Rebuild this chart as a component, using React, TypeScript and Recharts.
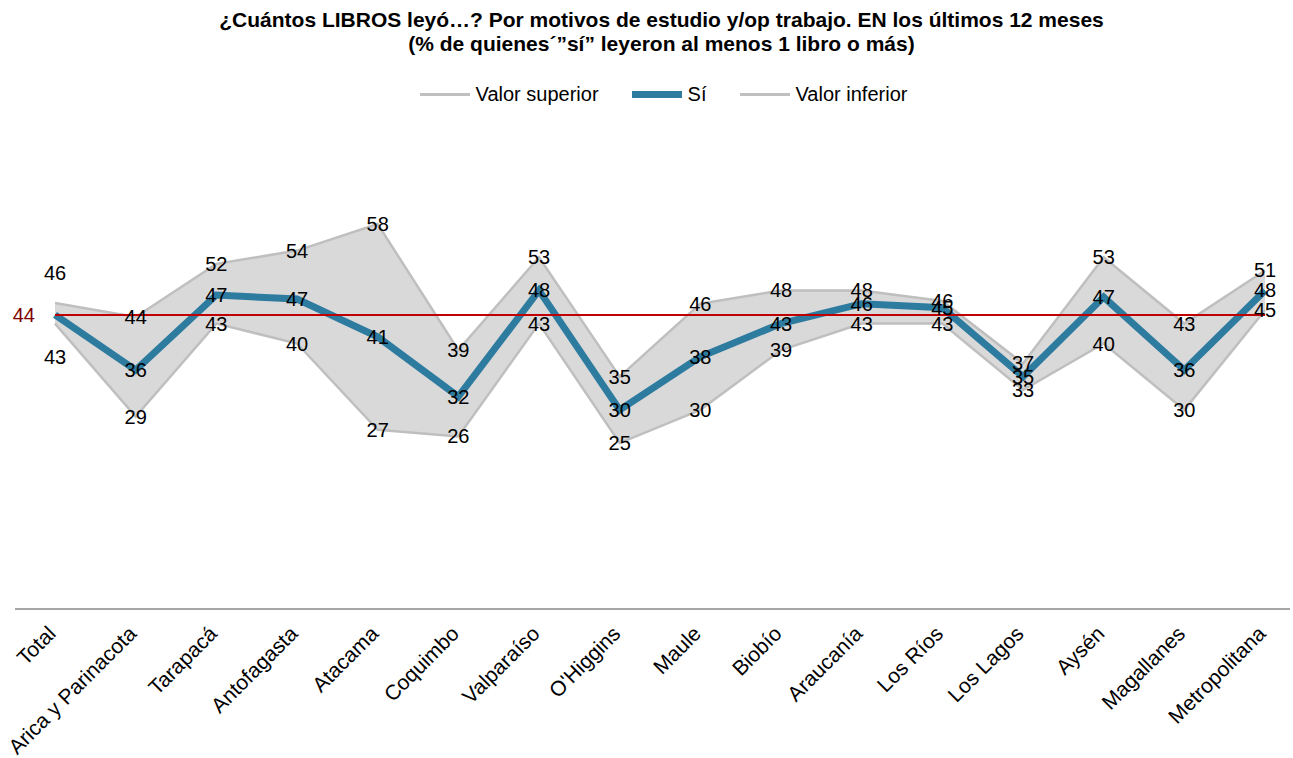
import { ComposedChart, Area, Line, XAxis, YAxis, ReferenceLine, LabelList } from "recharts";

const regiones = [
  "Total",
  "Arica y Parinacota",
  "Tarapacá",
  "Antofagasta",
  "Atacama",
  "Coquimbo",
  "Valparaíso",
  "O'Higgins",
  "Maule",
  "Biobío",
  "Araucanía",
  "Los Ríos",
  "Los Lagos",
  "Aysén",
  "Magallanes",
  "Metropolitana",
];
const valorSuperior = [46.1, 44, 52, 54, 58, 39, 53, 35, 46, 48, 48, 46.4, 37, 53, 43, 51];
const si = [44.3, 36, 47.3, 46.7, 41, 32, 48, 30, 38, 43, 46, 45.4, 35, 47, 36, 48];
const valorInferior = [43, 29, 43, 40, 27, 26, 43, 25, 30, 39, 43, 43, 33, 40, 30, 45];
const promedio = 44.3;

const data = regiones.map((region, i) => ({
  region,
  sup: valorSuperior[i],
  si: si[i],
  inf: valorInferior[i],
  banda: [valorInferior[i], valorSuperior[i]],
}));

const FONT = "'Liberation Sans', Arial, sans-serif";
const GRIS = "#bfbfbf";
const AZUL = "#2e7ba0";

// Excel moved the Total labels away from the line; null hides the label
const makeLabel =
  (shiftFirst: number | null) =>
  (props: any) => {
    const { x, y, value, index } = props;
    if (index === 0 && shiftFirst === null) return null;
    const dy = index === 0 ? shiftFirst || 0 : 0;
    return (
      <text
        x={x}
        y={y + dy}
        dy={7}
        textAnchor="middle"
        fontSize={20}
        fontFamily={FONT}
        fill="#000"
      >
        {Math.round(value)}
      </text>
    );
  };

const Tick = (props: any) => {
  const { x, y, payload } = props;
  return (
    <g transform={`translate(${x + 2},${y + 18})`}>
      <text
        transform="rotate(-45)"
        textAnchor="end"
        fontSize={21}
        fontFamily={FONT}
        fill="#000"
      >
        {payload.value}
      </text>
    </g>
  );
};

const LegendItem = ({ color, width, label }: { color: string; width: number; label: string }) => (
  <span style={{ display: "inline-flex", alignItems: "center" }}>
    <span style={{ display: "inline-block", width: 50, height: width, background: color, marginRight: 6 }} />
    {label}
  </span>
);

export default function App() {
  return (
    <div
      style={{
        position: "fixed",
        left: 0,
        top: 0,
        width: 1293,
        height: 758,
        background: "#fff",
        fontFamily: FONT,
      }}
    >
      <div
        style={{
          position: "absolute",
          top: 8,
          left: 0,
          width: 1323,
          textAlign: "center",
          fontWeight: "bold",
          fontSize: 21,
          lineHeight: "24px",
          color: "#000",
        }}
      >
        ¿Cuántos LIBROS leyó…? Por motivos de estudio y/op trabajo. EN los últimos 12 meses
        <br />
        (% de quienes´”sí” leyeron al menos 1 libro o más)
      </div>
      <div
        style={{
          position: "absolute",
          top: 82,
          left: 0,
          width: 1327,
          fontSize: 20,
          lineHeight: "24px",
          color: "#000",
          display: "flex",
          justifyContent: "center",
          gap: 33,
        }}
      >
        <LegendItem color={GRIS} width={3} label="Valor superior" />
        <LegendItem color={AZUL} width={7} label="Sí" />
        <LegendItem color={GRIS} width={3} label="Valor inferior" />
      </div>
      <div style={{ position: "absolute", left: 0, top: 0 }}>
        <ComposedChart
          width={1293}
          height={758}
          data={data}
          margin={{ top: 78, right: 3, bottom: 29, left: 15 }}
        >
          <XAxis
            dataKey="region"
            height={120}
            padding={{ left: 40, right: 25 }}
            axisLine={{ stroke: "#a6a6a6", strokeWidth: 2 }}
            tickLine={false}
            tick={<Tick />}
            interval={0}
          />
          <YAxis hide domain={[0, 80]} />
          <Area
            dataKey="banda"
            fill="#d9d9d9"
            fillOpacity={1}
            stroke="none"
            isAnimationActive={false}
            activeDot={false}
          />
          <Line dataKey="sup" stroke={GRIS} strokeWidth={2.5} dot={false} isAnimationActive={false} />
          <Line dataKey="inf" stroke={GRIS} strokeWidth={2.5} dot={false} isAnimationActive={false} />
          <Line dataKey="si" stroke={AZUL} strokeWidth={7} dot={false} isAnimationActive={false} />
          <ReferenceLine
            segment={[
              { x: regiones[0], y: promedio },
              { x: regiones[regiones.length - 1], y: promedio },
            ]}
            stroke="#c00000"
            strokeWidth={2}
            label={(p: any) => (
              <text
                x={p.viewBox.x - 20}
                y={p.viewBox.y + 7}
                textAnchor="end"
                fontSize={20}
                fontFamily={FONT}
                fill="#7f0000"
              >
                {Math.round(promedio)}
              </text>
            )}
          />
          <Line dataKey="sup" stroke="none" dot={false} isAnimationActive={false}>
            <LabelList dataKey="sup" content={makeLabel(-30)} />
          </Line>
          <Line dataKey="si" stroke="none" dot={false} isAnimationActive={false}>
            <LabelList dataKey="si" content={makeLabel(null)} />
          </Line>
          <Line dataKey="inf" stroke="none" dot={false} isAnimationActive={false}>
            <LabelList dataKey="inf" content={makeLabel(33)} />
          </Line>
        </ComposedChart>
      </div>
    </div>
  );
}
